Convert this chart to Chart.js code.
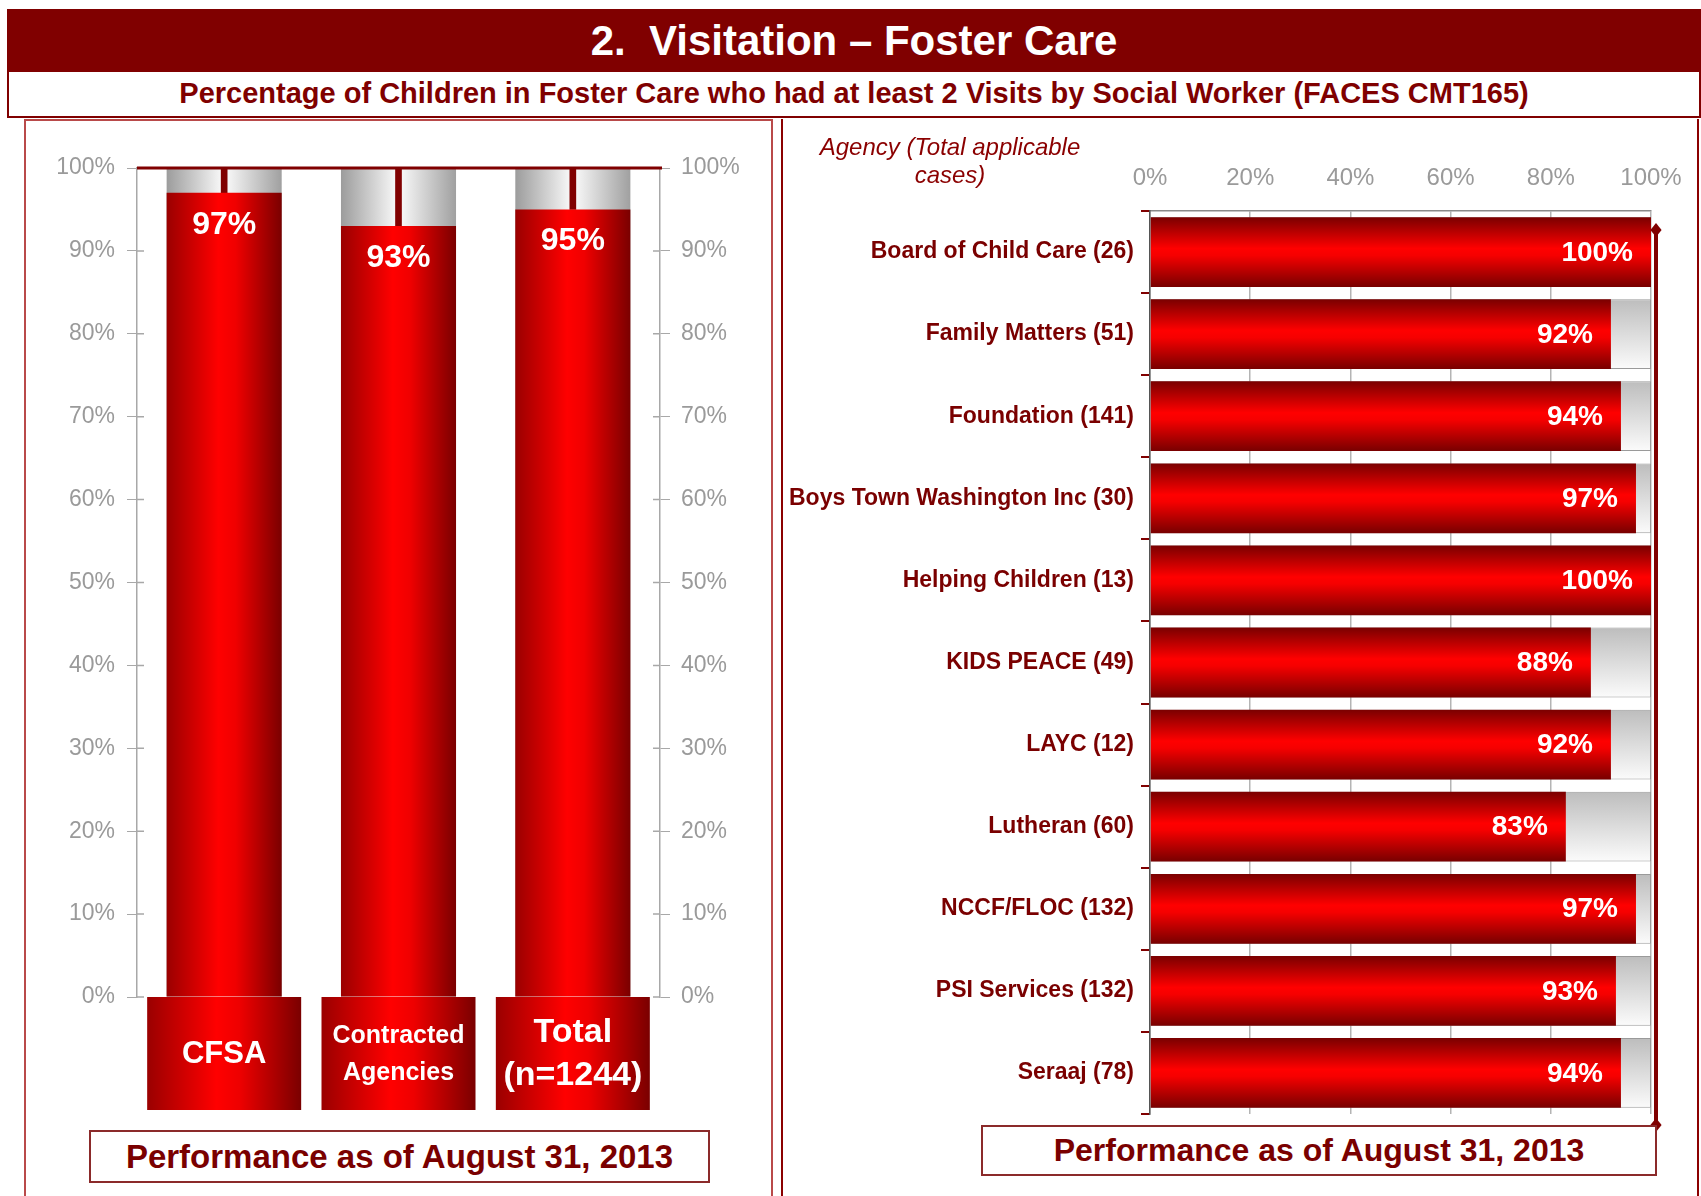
<!DOCTYPE html>
<html>
<head>
<meta charset="utf-8">
<script src="https://cdn.jsdelivr.net/npm/chart.js@4.4.1/dist/chart.umd.min.js"></script>
<style>
  body { margin: 0; width: 1701px; height: 1196px; background: #fff; overflow: hidden; font-family: "Liberation Sans", Arial, sans-serif; position: relative; }
  .abs { position: absolute; box-sizing: border-box; }
  #title { left: 7px; top: 9px; width: 1694px; height: 63px; background: #800000; color: #fff; font-weight: bold; font-size: 42px; line-height: 63px; text-align: center; white-space: pre; }
  #subtitle { left: 7px; top: 72px; width: 1694px; height: 46px; border: 2px solid #800000; border-top: none; color: #800000; font-weight: bold; font-size: 29px; line-height: 42px; text-align: center; }
  #leftPanel { left: 24px; top: 119px; width: 749px; height: 1100px; border: 2px solid #b94a4a; }
  #rightPanel { left: 781px; top: 119px; width: 918px; height: 1100px; border-left: 2px solid #8b0000; border-right: 2px solid #8b0000; }
  .perf { border: 2px solid #8b2a2a; color: #7a0000; font-weight: bold; text-align: center; background: #fff; }
  #perfL { left: 89px; top: 1130px; width: 621px; height: 53px; font-size: 33px; line-height: 49px; }
  #perfR { left: 981px; top: 1125px; width: 676px; height: 51px; font-size: 32px; line-height: 47px; }
  #agency { left: 795px; top: 133px; width: 310px; color: #8b0000; font-style: italic; font-size: 24px; line-height: 28px; text-align: center; }
  canvas { position: absolute; }
</style>
</head>
<body>
<div id="title" class="abs">2.  Visitation – Foster Care</div>
<div id="subtitle" class="abs">Percentage of Children in Foster Care who had at least 2 Visits by Social Worker (FACES CMT165)</div>
<div id="leftPanel" class="abs"></div>
<div id="rightPanel" class="abs"></div>
<canvas id="leftChart" width="748" height="1077" style="left:24px; top:119px;"></canvas>
<canvas id="rightChart" width="920" height="1077" style="left:781px; top:119px;"></canvas>
<div id="agency" class="abs">Agency (Total applicable<br>cases)</div>
<div id="perfL" class="abs perf">Performance as of August 31, 2013</div>
<div id="perfR" class="abs perf">Performance as of August 31, 2013</div>
<script>
// left chart: CFSA vs contracted vs total
const groups = ['CFSA', 'Contracted\nAgencies', 'Total\n(n=1244)'];
const groupPct = [97, 93, 95];
const groupGoal = [100, 100, 100];
const pctTicks = [0, 10, 20, 30, 40, 50, 60, 70, 80, 90, 100];

// right chart: by agency
const agencies = ['Board of Child Care', 'Family Matters', 'Foundation', 'Boys Town Washington Inc',
  'Helping Children', 'KIDS PEACE', 'LAYC', 'Lutheran', 'NCCF/FLOC', 'PSI Services', 'Seraaj'];
const agencyCases = [26, 51, 141, 30, 13, 49, 12, 60, 132, 132, 78];
const agencyPct = [100, 92, 94, 97, 100, 88, 92, 83, 97, 93, 94];
const agencyGoal = agencyPct.map(() => 100);
const axisTicks = [0, 20, 40, 60, 80, 100];

const FONT = '"Liberation Sans", Arial, sans-serif';
const DARK = '#800000';

function hGrad(ctx, x0, x1, stops) {
  const g = ctx.createLinearGradient(x0, 0, x1, 0);
  stops.forEach(s => g.addColorStop(s[0], s[1]));
  return g;
}
function vGrad(ctx, y0, y1, stops) {
  const g = ctx.createLinearGradient(0, y0, 0, y1);
  stops.forEach(s => g.addColorStop(s[0], s[1]));
  return g;
}

// ---------- left chart ----------
const LEFT_BAR = 0.66;
function leftHalf(chart) {
  const x = chart.scales.x;
  return (x.getPixelForValue(1) - x.getPixelForValue(0)) * LEFT_BAR / 2;
}

const leftDeco = {
  id: 'leftDeco',
  beforeDatasetsDraw(chart) {
    // short inner half of the axis ticks
    const { ctx, chartArea } = chart;
    const y = chart.scales.y;
    ctx.save();
    ctx.strokeStyle = '#a8a8a8';
    ctx.lineWidth = 1.5;
    pctTicks.forEach(v => {
      const py = y.getPixelForValue(v);
      ctx.beginPath();
      ctx.moveTo(chartArea.left, py); ctx.lineTo(chartArea.left + 7, py);
      ctx.moveTo(chartArea.right - 7, py); ctx.lineTo(chartArea.right, py);
      ctx.stroke();
    });
    ctx.restore();
  },
  afterDatasetsDraw(chart) {
    const { ctx, chartArea } = chart;
    const x = chart.scales.x, y = chart.scales.y;
    // 100% line
    ctx.save();
    ctx.strokeStyle = DARK;
    ctx.lineWidth = 3;
    ctx.beginPath();
    ctx.moveTo(chartArea.left, y.getPixelForValue(100));
    ctx.lineTo(chartArea.right + 2, y.getPixelForValue(100));
    ctx.stroke();

    // value labels
    const meta = chart.getDatasetMeta(0);
    ctx.fillStyle = '#fff';
    ctx.font = 'bold 32px ' + FONT;
    ctx.textAlign = 'center';
    ctx.textBaseline = 'middle';
    meta.data.forEach((bar, i) => {
      ctx.fillText(groupPct[i] + '%', bar.x, bar.y + 32);
    });

    // category boxes under the axis
    const sizes = [31, 25, 34];
    const gaps = [0, 37, 43];
    groups.forEach((g, i) => {
      const cx = x.getPixelForValue(i);
      const w = 154, top = chartArea.bottom, h = 113;
      ctx.fillStyle = hGrad(ctx, cx - w / 2, cx + w / 2,
        [[0, '#9a0000'], [0.45, '#ff0000'], [0.6, '#ee0000'], [1, '#7a0000']]);
      ctx.fillRect(cx - w / 2, top, w, h);
      const lines = g.split('\n');
      ctx.fillStyle = '#fff';
      ctx.font = 'bold ' + sizes[i] + 'px ' + FONT;
      const cy = top + h / 2 + 1;
      lines.forEach((ln, k) => {
        const off = (k - (lines.length - 1) / 2) * gaps[i];
        ctx.fillText(ln, cx, cy + off);
      });
    });
    ctx.restore();
  }
};

new Chart(document.getElementById('leftChart'), {
  type: 'bar',
  data: {
    labels: groups,
    datasets: [
      {
        data: groupPct,
        grouped: false,
        categoryPercentage: LEFT_BAR,
        barPercentage: 1,
        backgroundColor(c) {
          const ch = c.chart;
          if (!ch.chartArea) return '#e00000';
          const cx = ch.scales.x.getPixelForValue(c.dataIndex), hw = leftHalf(ch);
          return hGrad(ch.ctx, cx - hw, cx + hw,
            [[0, '#9a0000'], [0.45, '#ff0000'], [0.6, '#f00000'], [1, '#7a0000']]);
        }
      },
      {
        data: groupPct.map((v, i) => [v, groupGoal[i]]),
        grouped: false,
        barThickness: 6,
        backgroundColor: DARK
      },
      {
        data: groupGoal,
        grouped: false,
        categoryPercentage: LEFT_BAR,
        barPercentage: 1,
        backgroundColor(c) {
          const ch = c.chart;
          if (!ch.chartArea) return '#ccc';
          const cx = ch.scales.x.getPixelForValue(c.dataIndex), hw = leftHalf(ch);
          return hGrad(ch.ctx, cx - hw, cx + hw,
            [[0, '#9c9c9c'], [0.46, '#f4f4f4'], [0.54, '#f4f4f4'], [1, '#a0a0a0']]);
        }
      }
    ]
  },
  options: {
    responsive: false,
    animation: false,
    layout: { padding: { top: 49, bottom: 199, left: 0, right: 0 } },
    plugins: { legend: { display: false }, tooltip: { enabled: false } },
    scales: {
      x: { display: false },
      y: {
        min: 0, max: 100,
        afterBuildTicks(s) { s.ticks = pctTicks.map(v => ({ value: v })); },
        afterFit(s) { s.width = 113; },
        border: { display: true, color: '#a8a8a8', width: 1.5 },
        grid: { drawOnChartArea: false, drawTicks: true, tickLength: 10, tickColor: '#a8a8a8' },
        ticks: { color: '#9a9a9a', padding: 12, font: { family: FONT, size: 23 }, callback: v => v + '%' }
      },
      y2: {
        position: 'right',
        display: true,
        min: 0, max: 100,
        afterBuildTicks(s) { s.ticks = pctTicks.map(v => ({ value: v })); },
        afterFit(s) { s.width = 112; },
        border: { display: true, color: '#a8a8a8', width: 1.5 },
        grid: { drawOnChartArea: false, drawTicks: true, tickLength: 10, tickColor: '#a8a8a8' },
        ticks: { color: '#9a9a9a', padding: 11, font: { family: FONT, size: 23 }, callback: v => v + '%' }
      }
    }
  },
  plugins: [leftDeco]
});

// ---------- right chart ----------
const RIGHT_BAR = 0.85;
function rightHalf(chart) {
  const y = chart.scales.y;
  return (y.getPixelForValue(1) - y.getPixelForValue(0)) * RIGHT_BAR / 2;
}
function diamond(ctx, x, y, r) {
  ctx.beginPath();
  ctx.moveTo(x, y - r);
  ctx.lineTo(x + r * 0.8, y);
  ctx.lineTo(x, y + r);
  ctx.lineTo(x - r * 0.8, y);
  ctx.closePath();
  ctx.fill();
}

const rightDeco = {
  id: 'rightDeco',
  afterDatasetsDraw(chart) {
    const { ctx, chartArea } = chart;
    const x = chart.scales.x;
    ctx.save();
    // goal line with diamonds
    const gx = x.getPixelForValue(100) + 5;
    const y0 = chartArea.top + 19, y1 = chartArea.bottom + 11;
    ctx.strokeStyle = DARK;
    ctx.fillStyle = DARK;
    ctx.lineWidth = 4;
    ctx.beginPath();
    ctx.moveTo(gx, y0);
    ctx.lineTo(gx, y1);
    ctx.stroke();
    diamond(ctx, gx, y0, 7);
    diamond(ctx, gx, y1, 7);

    // value labels
    const meta = chart.getDatasetMeta(0);
    ctx.fillStyle = '#fff';
    ctx.font = 'bold 28px ' + FONT;
    ctx.textAlign = 'right';
    ctx.textBaseline = 'middle';
    meta.data.forEach((bar, i) => {
      ctx.fillText(agencyPct[i] + '%', bar.x - 18, bar.y + 1);
    });
    ctx.restore();
  }
};

new Chart(document.getElementById('rightChart'), {
  type: 'bar',
  data: {
    labels: agencies.map((a, i) => a + ' (' + agencyCases[i] + ')'),
    datasets: [
      {
        data: agencyPct,
        grouped: false,
        categoryPercentage: RIGHT_BAR,
        barPercentage: 1,
        backgroundColor(c) {
          const ch = c.chart;
          if (!ch.chartArea) return '#e00000';
          const cy = ch.scales.y.getPixelForValue(c.dataIndex), hh = rightHalf(ch);
          return vGrad(ch.ctx, cy - hh, cy + hh,
            [[0, '#7a0000'], [0.45, '#ff0000'], [0.55, '#f60000'], [1, '#780000']]);
        }
      },
      {
        data: agencyGoal,
        grouped: false,
        categoryPercentage: RIGHT_BAR,
        barPercentage: 1,
        borderWidth: 1,
        borderColor: '#9a9a9a',
        backgroundColor(c) {
          const ch = c.chart;
          if (!ch.chartArea) return '#ddd';
          const cy = ch.scales.y.getPixelForValue(c.dataIndex), hh = rightHalf(ch);
          return vGrad(ch.ctx, cy - hh, cy + hh, [[0, '#bdbdbd'], [1, '#fbfbfb']]);
        }
      }
    ]
  },
  options: {
    indexAxis: 'y',
    responsive: false,
    animation: false,
    layout: { padding: { top: 0, bottom: 82, left: 0, right: 50 } },
    plugins: { legend: { display: false }, tooltip: { enabled: false } },
    scales: {
      x: {
        position: 'top',
        min: 0, max: 100,
        afterBuildTicks(s) { s.ticks = axisTicks.map(v => ({ value: v })); },
        afterFit(s) { s.height = 92; },
        border: { display: true, color: '#8a8a8a', width: 1.5 },
        grid: { color: '#b4b4b4', lineWidth: 1.5, drawTicks: false },
        ticks: { color: '#9a9a9a', padding: 18, font: { family: FONT, size: 24 }, callback: v => v + '%' }
      },
      y: {
        afterFit(s) { s.width = 369; },
        border: { display: true, color: '#555', width: 1.5 },
        grid: { drawOnChartArea: false, drawTicks: true, tickLength: 9, tickColor: DARK, lineWidth: 2, offset: true },
        ticks: { color: '#7a0000', padding: 7, font: { family: FONT, size: 23, weight: 'bold' } }
      }
    }
  },
  plugins: [rightDeco]
});
</script>
</body>
</html>
